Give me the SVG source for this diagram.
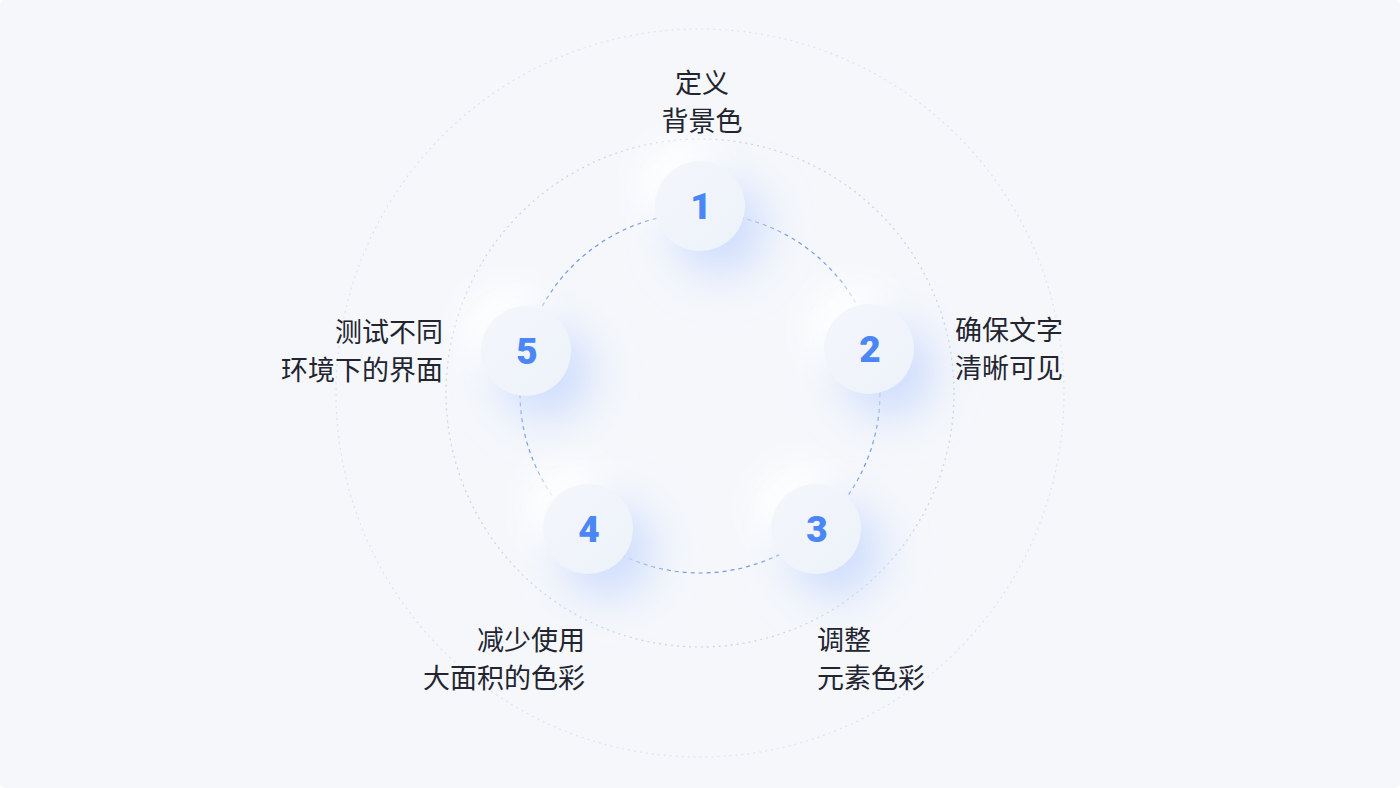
<svg xmlns="http://www.w3.org/2000/svg" width="1400" height="788" viewBox="0 0 1400 788">
<defs>
<style>
.lbl{font-family:"Noto Sans CJK SC","Noto Sans",sans-serif;font-size:27px;fill:#222530;}
.num{font-family:Roboto,"Liberation Sans",sans-serif;font-weight:900;font-size:37px;fill:#4a86f5;text-anchor:middle;}
.disc{fill:url(#discGrad);}
.hl{fill:#ffffff;filter:url(#blurW);}
.sh{fill:#cfdefd;filter:url(#blurB);}
</style>
<filter id="blurW" x="-80%" y="-80%" width="260%" height="260%"><feGaussianBlur stdDeviation="16"/></filter>
<filter id="blurB" x="-80%" y="-80%" width="260%" height="260%"><feGaussianBlur stdDeviation="22"/></filter>
<linearGradient id="discGrad" x1="0" y1="0" x2="1" y2="1">
<stop offset="0" stop-color="#f4f6fb"/>
<stop offset="1" stop-color="#edf2fa"/>
</linearGradient>
</defs>
<rect x="0" y="0" width="1400" height="788" rx="5" fill="#f5f7fb"/>
<g id="rings" fill="none">
<circle cx="700" cy="393" r="364" stroke="#dde3ee" stroke-width="1.2" stroke-dasharray="2 4"/>
<circle cx="700" cy="393" r="254" stroke="#c9d4e6" stroke-width="1.2" stroke-dasharray="2 4"/>
</g>
<g id="connectors" fill="none">
<circle cx="700" cy="393" r="180" stroke="#6e98e8" stroke-width="1.2" stroke-dasharray="4 4"/>
</g>
<g id="node1">
<circle class="hl" cx="682" cy="186" r="44"/>
<circle class="sh" cx="720" cy="228" r="46"/>
<circle class="disc" cx="700" cy="206" r="45"/>
<text class="num" x="701" y="219">1</text>
<text class="lbl" x="702" y="93" text-anchor="middle">定义</text>
<text class="lbl" x="702" y="131" text-anchor="middle">背景色</text>
</g>
<g id="node2">
<circle class="hl" cx="851" cy="329" r="44"/>
<circle class="sh" cx="889" cy="371" r="46"/>
<circle class="disc" cx="869" cy="349" r="45"/>
<text class="num" x="870" y="362">2</text>
<text class="lbl" x="955" y="340">确保文字</text>
<text class="lbl" x="955" y="378">清晰可见</text>
</g>
<g id="node3">
<circle class="hl" cx="798" cy="509" r="44"/>
<circle class="sh" cx="836" cy="551" r="46"/>
<circle class="disc" cx="816" cy="529" r="45"/>
<text class="num" x="817" y="542">3</text>
<text class="lbl" x="817" y="650">调整</text>
<text class="lbl" x="817" y="688">元素色彩</text>
</g>
<g id="node4">
<circle class="hl" cx="570" cy="509" r="44"/>
<circle class="sh" cx="608" cy="551" r="46"/>
<circle class="disc" cx="588" cy="529" r="45"/>
<text class="num" x="589" y="542">4</text>
<text class="lbl" x="585" y="650" text-anchor="end">减少使用</text>
<text class="lbl" x="585" y="688" text-anchor="end">大面积的色彩</text>
</g>
<g id="node5">
<circle class="hl" cx="508" cy="331" r="44"/>
<circle class="sh" cx="546" cy="373" r="46"/>
<circle class="disc" cx="526" cy="351" r="45"/>
<text class="num" x="527" y="364">5</text>
<text class="lbl" x="443" y="342" text-anchor="end">测试不同</text>
<text class="lbl" x="443" y="380" text-anchor="end">环境下的界面</text>
</g>
</svg>
